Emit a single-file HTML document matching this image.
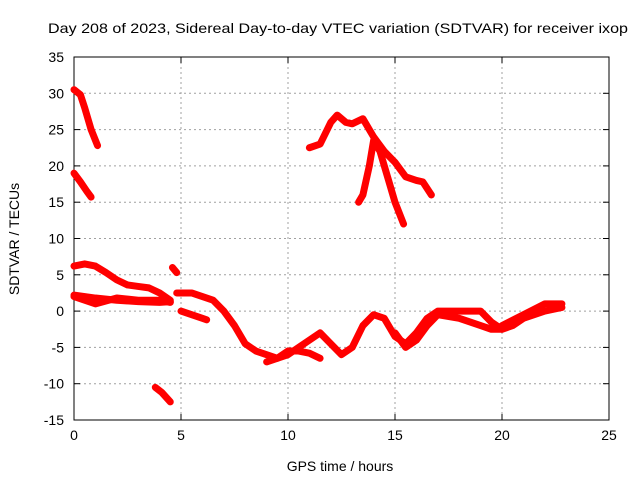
<!DOCTYPE html>
<html><head><meta charset="utf-8"><style>
body{margin:0;background:#fff}
svg text{font-family:"Liberation Sans",sans-serif;font-size:14px;fill:#000}
</style></head><body>
<svg id="c" width="640" height="480"></svg>
<script>
const xTicks=[0,5,10,15,20,25];
const yTicks=[-15,-10,-5,0,5,10,15,20,25,30,35];
const series1=[[0,30.5],[0.3,29.8],[0.5,28],[0.8,25],[1.1,22.8]];
const series2=[[0,19],[0.3,17.8],[0.6,16.5],[0.8,15.7]];
const series3=[[0,6.2],[0.5,6.5],[1,6.2],[1.5,5.3],[2,4.3],[2.5,3.6],[3,3.4],[3.5,3.2],[4,2.5],[4.5,1.5]];
const series4=[[0,2.2],[0.5,2],[1,1.8],[2,1.5],[3,1.3],[4,1.2],[4.5,1.3]];
const series5=[[0,2],[0.5,1.5],[1,1],[2,1.8],[3,1.5],[4,1.5],[4.5,1.2]];
const series6=[[3.8,-10.5],[4.1,-11.2],[4.5,-12.5]];
const series7=[[4.6,6],[4.8,5.3]];
const series8=[[4.8,2.5],[5.5,2.5],[6,2],[6.5,1.5],[7,0],[7.5,-2],[8,-4.5],[8.5,-5.5],[9,-6],[9.5,-6.5],[10,-6],[10.5,-5],[11,-4],[11.5,-3],[12,-4.5],[12.5,-6],[13,-5],[13.5,-2],[14,-0.5],[14.5,-1],[15,-3.5],[15.5,-4.5],[16,-3],[16.5,-1],[17,0],[18,0],[19,0],[19.5,-1.5],[20,-2.5],[20.5,-2],[21,-1],[22,0],[22.8,0.5]];
const series9=[[5,0],[5.5,-0.5],[6,-1],[6.2,-1.2]];
const series10=[[9,-7],[9.5,-6.5],[10,-5.5],[10.5,-5.5],[11,-5.8],[11.5,-6.5]];
const series11=[[15,-3],[15.5,-5],[16,-4],[16.5,-2],[17,-0.5],[18,-1],[19,-2],[19.5,-2.5],[20,-2.5]];
const series12=[[20,-2],[21,-0.5],[22,1],[22.8,1]];
const series13=[[11,22.5],[11.5,23],[12,26],[12.3,27],[12.7,26],[13,25.8],[13.5,26.5],[14,24],[14.5,22],[15,20.5],[15.5,18.5],[16,18],[16.3,17.8],[16.7,16]];
const series14=[[13.3,15],[13.5,16],[13.8,20],[14,23.5],[14.3,22],[14.7,18],[15,15],[15.4,12]];
const allSeries=[series1,series2,series3,series4,series5,series6,series7,series8,series9,series10,series11,series12,series13,series14];
const L=74,R=609,T=57,B=420;
const X=v=>L+(v-0)/25*(R-L);
const Y=v=>B-(v+15)/50*(B-T);
const svg=document.getElementById('c');const NS='http://www.w3.org/2000/svg';
function mk(t,a,p){const e=document.createElementNS(NS,t);for(const k in a)e.setAttribute(k,a[k]);(p||svg).appendChild(e);return e;}
const grid=mk('g',{});


xTicks.forEach(v=>{
 if(v>0&&v<25)mk('line',{x1:X(v),x2:X(v),y1:T,y2:B,stroke:'#a0a0a0','stroke-dasharray':'2,3'},grid);
 mk('line',{x1:X(v),x2:X(v),y1:B,y2:B-6,stroke:'#000'});mk('line',{x1:X(v),x2:X(v),y1:T,y2:T+6,stroke:'#000'});
 const t=mk('text',{x:X(v),y:B+20,'text-anchor':'middle'});t.textContent=v;
 
 
});
yTicks.forEach(v=>{
 if(v>-15&&v<35)mk('line',{x1:L,x2:R,y1:Y(v),y2:Y(v),stroke:'#a0a0a0','stroke-dasharray':'2,3'},grid);
 mk('line',{x1:L,x2:L+6,y1:Y(v),y2:Y(v),stroke:'#000'});mk('line',{x1:R,x2:R-6,y1:Y(v),y2:Y(v),stroke:'#000'});
 const t=mk('text',{x:L-10,y:Y(v)+5,'text-anchor':'end'});t.textContent=v;
 
 
});
const fr=mk('rect',{x:L,y:T,width:R-L,height:B-T,fill:'none',stroke:'#000'});


allSeries.forEach((s,i)=>{
 const p=mk('polyline',{points:s.map(d=>X(d[0])+','+Y(d[1])).join(' '),fill:'none',stroke:'#f00','stroke-width':7,'stroke-linejoin':'round','stroke-linecap':'round'});
 
 
});
const tt=mk('text',{x:338,y:33,'text-anchor':'middle',textLength:580,lengthAdjust:'spacingAndGlyphs'});tt.textContent='Day 208 of 2023, Sidereal Day-to-day VTEC variation (SDTVAR) for receiver ixop';


const xt=mk('text',{x:340,y:471,'text-anchor':'middle'});xt.textContent='GPS time / hours';


const yt=mk('text',{x:0,y:0,'text-anchor':'middle',transform:'translate(19,239) rotate(-90)'});yt.textContent='SDTVAR / TECUs';


</script>
</body></html>
